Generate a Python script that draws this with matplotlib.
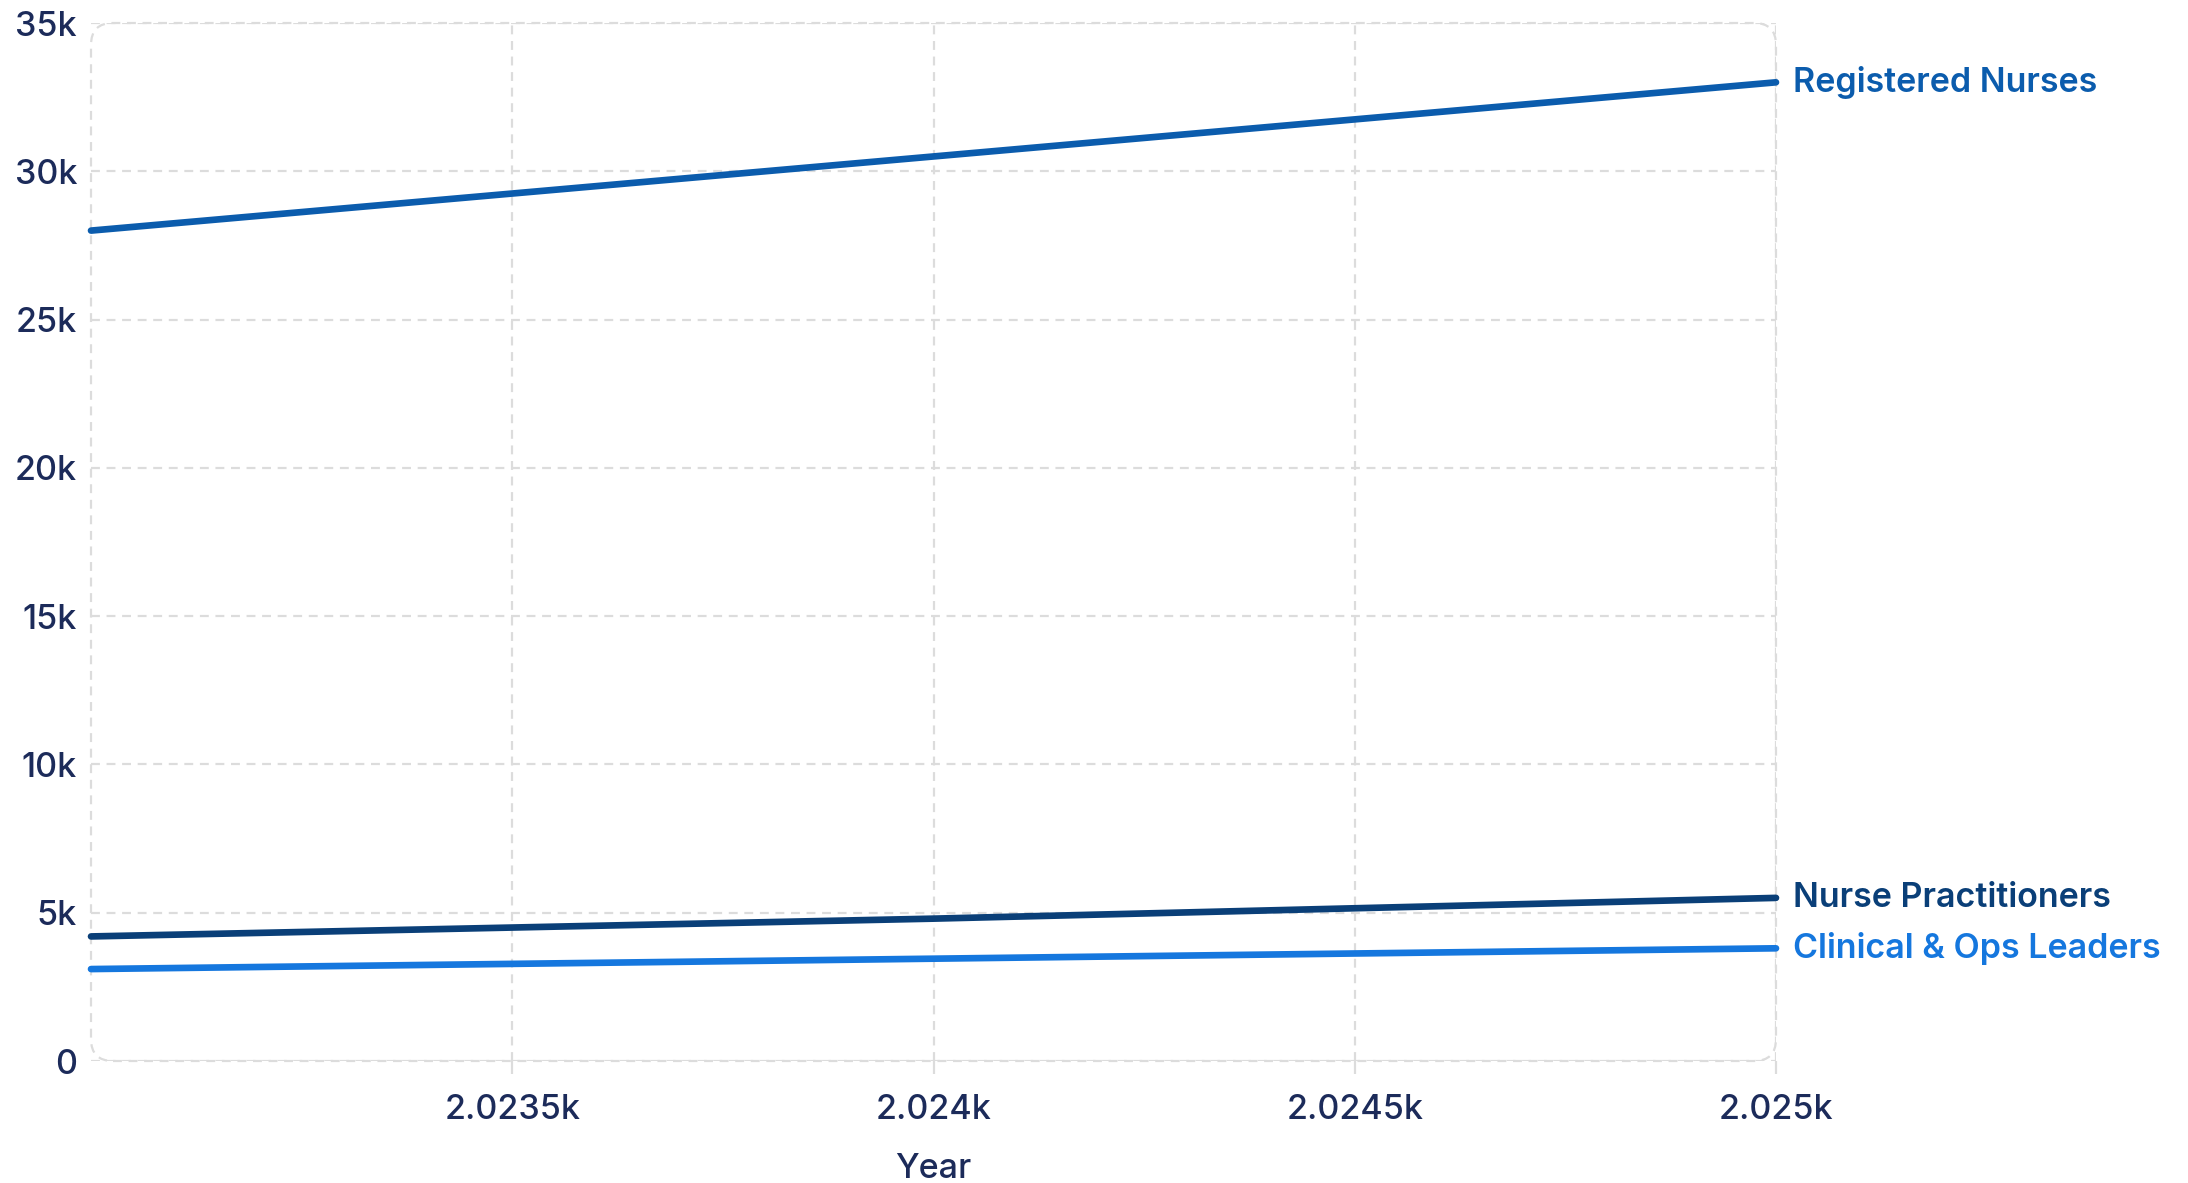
import matplotlib
matplotlib.use("Agg")
import matplotlib.pyplot as plt
from matplotlib.patches import FancyBboxPatch
from matplotlib.ticker import FuncFormatter

plt.rcParams["font.family"] = ["Inter", "DejaVu Sans"]

# ===== DATA =====
years = [2023, 2024, 2025]
registered_nurses = [28000, 30500, 33000]
nurse_practitioners = [4200, 4800, 5500]
clinical_ops_leaders = [3100, 3450, 3800]

series_names = ["Registered Nurses", "Nurse Practitioners", "Clinical & Ops Leaders"]
series_values = [registered_nurses, nurse_practitioners, clinical_ops_leaders]
series_colors = ["#0b5cad", "#0a3f78", "#1577de"]

x_ticks = [2023.5, 2024, 2024.5, 2025]
y_ticks = [0, 5000, 10000, 15000, 20000, 25000, 30000, 35000]

TEXT = "#1c2b5a"
GRID = "#dcdcdc"
FS = 24.5


def si_k(v, pos=None):
    """d3-style SI label: 2023.5 -> 2.0235k, 30000 -> 30k."""
    if v == 0:
        return "0"
    s = f"{v / 1000:.4f}".rstrip("0").rstrip(".")
    return s + "k"


fig = plt.figure(figsize=(21.88, 11.83), dpi=100)
ax = fig.add_axes([91 / 2188, 1 - 1061 / 1183, (1776 - 91) / 2188, (1061 - 23) / 1183])

ax.set_xlim(2023, 2025)
ax.set_ylim(0, 35000)

# grid and rounded dashed frame
for s in ax.spines.values():
    s.set_visible(False)
ax.set_xticks(x_ticks)
ax.set_yticks(y_ticks)
ax.xaxis.set_major_formatter(FuncFormatter(si_k))
ax.yaxis.set_major_formatter(FuncFormatter(si_k))
ax.grid(True, color=GRID, linestyle=(0, (4, 3)), linewidth=1.6)
ax.set_axisbelow(True)

w_px, h_px = 1685, 1038
r_px = 22
frame = FancyBboxPatch((0, 0), 1, 1, transform=ax.transAxes,
                       boxstyle=f"round,pad=0,rounding_size={r_px / w_px}",
                       mutation_aspect=w_px / h_px,
                       fill=False, edgecolor=GRID, linewidth=1.6,
                       linestyle=(0, (4, 3)), clip_on=False, zorder=1)
ax.add_patch(frame)

ax.tick_params(axis="x", length=9, width=1.6, color=GRID, pad=15,
               labelsize=FS, labelcolor=TEXT)
ax.tick_params(axis="y", length=0, pad=10, labelsize=FS, labelcolor=TEXT)
for lab in ax.get_xticklabels() + ax.get_yticklabels():
    lab.set_fontweight("medium")

ax.set_xlabel("Year", fontsize=FS, fontweight="medium", color=TEXT, labelpad=19)

# lines with end labels
for name, vals, col in zip(series_names, series_values, series_colors):
    ax.plot(years, vals, color=col, linewidth=4.8, solid_capstyle="round",
            clip_on=False, zorder=3)
    ax.annotate(name, xy=(years[-1], vals[-1]), xytext=(12, 0),
                textcoords="offset points", va="center", ha="left",
                fontsize=FS, fontweight="semibold", color=col,
                annotation_clip=False)

fig.savefig("out.png", dpi=100, facecolor="white")
